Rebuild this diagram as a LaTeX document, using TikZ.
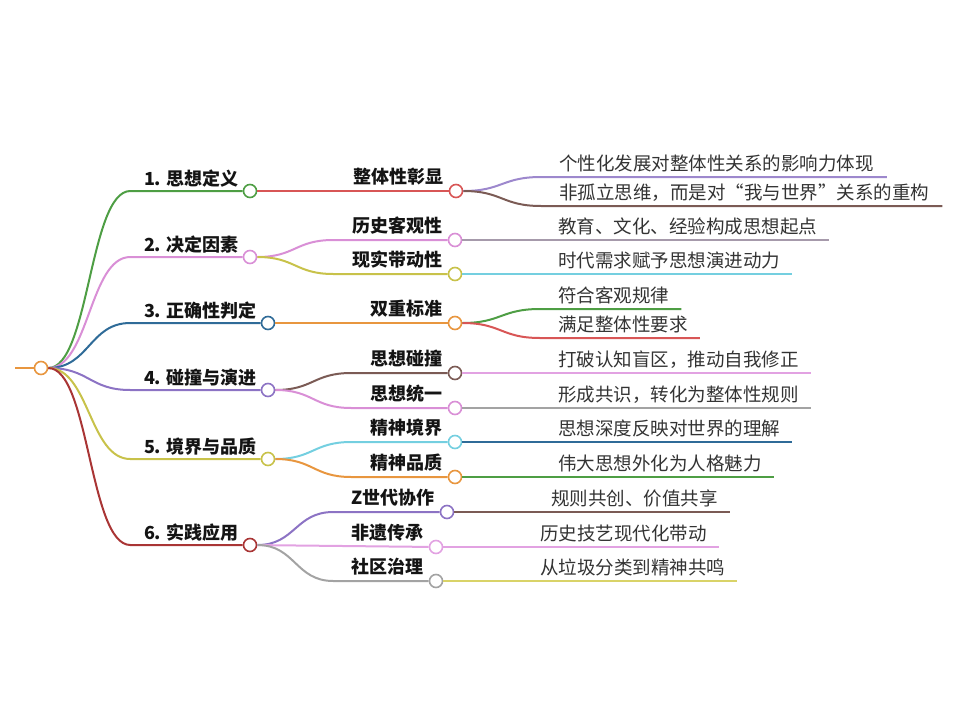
\documentclass[tikz,border=0pt]{standalone}
\usepackage{fontspec}
\usepackage{tikz}
\usetikzlibrary{calc}
\newfontfamily\cjk{Noto Sans CJK SC}
\definecolor{ORANGE}{HTML}{E8963F}
\definecolor{GREEN}{HTML}{4E9E44}
\definecolor{PINK}{HTML}{D98FD6}
\definecolor{BLUE}{HTML}{2F6B98}
\definecolor{PURPLE}{HTML}{8C73C4}
\definecolor{OLIVE}{HTML}{C8C24A}
\definecolor{DRED}{HTML}{A93535}
\definecolor{RED}{HTML}{D85656}
\definecolor{BROWN}{HTML}{7B5B55}
\definecolor{GRAY}{HTML}{A3A3A3}
\definecolor{CYAN}{HTML}{74CFE0}
\definecolor{LPINK}{HTML}{E2A2E2}
\definecolor{GPURP}{HTML}{A69AAB}
\definecolor{LYEL}{HTML}{D9D368}
\tikzset{
ARC/.style ={line join=round,line cap=butt,line width=2pt},
DOT/.style ={circle,draw,fill=white,line width=1.6pt,minimum size=13pt,inner sep=0pt},
TOP/.style ={font=\cjk\bfseries\fontsize{18}{20}\selectfont,text=black!92,inner sep=0pt,anchor=base east},
LEAF/.style ={font=\cjk\fontsize{18.5}{20}\selectfont,text=black!80,inner sep=0pt,anchor=base west},
}
\begin{document}
\begin{tikzpicture} %mind map
[x=1pt, y=-1pt]
	\useasboundingbox (0,0) rectangle (962,715);
	\node[DOT,draw=ORANGE] (root) at (41,368) {};
	\coordinate (in) at (15,368);
	\coordinate (k0) at ($(root.east)+(82,0)$);
	% first level
	\node[DOT,draw=GREEN] (a1) at (250,191) {};
	\node[DOT,draw=PINK] (a2) at (250,257) {};
	\node[DOT,draw=BLUE] (a3) at (268,323) {};
	\node[DOT,draw=PURPLE] (a4) at (268,390) {};
	\node[DOT,draw=OLIVE] (a5) at (268,459) {};
	\node[DOT,draw=DRED] (a6) at (250,545) {};
	\node[TOP] at ($(a1)+(-11,-6)$) {1. 思想定义};
	\node[TOP] at ($(a2)+(-11,-6)$) {2. 决定因素};
	\node[TOP] at ($(a3)+(-11,-6)$) {3. 正确性判定};
	\node[TOP] at ($(a4)+(-11,-6)$) {4. 碰撞与演进};
	\node[TOP] at ($(a5)+(-11,-6)$) {5. 境界与品质};
	\node[TOP] at ($(a6)+(-11,-6)$) {6. 实践应用};
	\path[ARC,draw=ORANGE] (in) -- (root);
	\path[ARC,draw=GREEN] (root.east) .. controls +(41,0) and +(-41,0) .. (k0 |- a1) -- (a1);
	\path[ARC,draw=PINK] (root.east) .. controls +(41,0) and +(-41,0) .. (k0 |- a2) -- (a2);
	\path[ARC,draw=BLUE] (root.east) .. controls +(41,0) and +(-41,0) .. (k0 |- a3) -- (a3);
	\path[ARC,draw=PURPLE] (root.east) .. controls +(41,0) and +(-41,0) .. (k0 |- a4) -- (a4);
	\path[ARC,draw=OLIVE] (root.east) .. controls +(41,0) and +(-41,0) .. (k0 |- a5) -- (a5);
	\path[ARC,draw=DRED] (root.east) .. controls +(41,0) and +(-41,0) .. (k0 |- a6) -- (a6);
	% second level
	\node[DOT,draw=RED] (b1) at (456,191) {};
	\node[DOT,draw=PINK] (b2) at (455,240) {};
	\node[DOT,draw=OLIVE] (b3) at (455,274) {};
	\node[DOT,draw=ORANGE] (b4) at (455,323) {};
	\node[DOT,draw=BROWN] (b5) at (455,373) {};
	\node[DOT,draw=PINK] (b6) at (455,408) {};
	\node[DOT,draw=CYAN] (b7) at (455,442) {};
	\node[DOT,draw=ORANGE] (b8) at (455,477) {};
	\node[DOT,draw=PURPLE] (b9) at (447,512) {};
	\node[DOT,draw=LPINK] (b10) at (436,547) {};
	\node[DOT,draw=GRAY] (b11) at (436,581) {};
	\node[TOP] at ($(b1)+(-12,-8)$) {整体性彰显};
	\node[TOP] at ($(b2)+(-12,-8)$) {历史客观性};
	\node[TOP] at ($(b3)+(-12,-8)$) {现实带动性};
	\node[TOP] at ($(b4)+(-12,-8)$) {双重标准};
	\node[TOP] at ($(b5)+(-12,-8)$) {思想碰撞};
	\node[TOP] at ($(b6)+(-12,-8)$) {思想统一};
	\node[TOP] at ($(b7)+(-12,-8)$) {精神境界};
	\node[TOP] at ($(b8)+(-12,-8)$) {精神品质};
	\node[TOP] at ($(b9)+(-12,-8)$) {Z世代协作};
	\node[TOP] at ($(b10)+(-12,-8)$) {非遗传承};
	\node[TOP] at ($(b11)+(-12,-8)$) {社区治理};
	\coordinate (k2) at ($(a2.east)+(76,0)$);
	\coordinate (k4) at ($(a4.east)+(76,0)$);
	\coordinate (k5) at ($(a5.east)+(76,0)$);
	\coordinate (k6) at ($(a6.east)+(76,0)$);
	\path[ARC,draw=RED] (a1) -- (b1);
	\path[ARC,draw=PINK] (a2.east) .. controls +(38,0) and +(-38,0) .. (k2 |- b2) -- (b2);
	\path[ARC,draw=OLIVE] (a2.east) .. controls +(38,0) and +(-38,0) .. (k2 |- b3) -- (b3);
	\path[ARC,draw=ORANGE] (a3) -- (b4);
	\path[ARC,draw=BROWN] (a4.east) .. controls +(38,0) and +(-38,0) .. (k4 |- b5) -- (b5);
	\path[ARC,draw=PINK] (a4.east) .. controls +(38,0) and +(-38,0) .. (k4 |- b6) -- (b6);
	\path[ARC,draw=CYAN] (a5.east) .. controls +(38,0) and +(-38,0) .. (k5 |- b7) -- (b7);
	\path[ARC,draw=ORANGE] (a5.east) .. controls +(38,0) and +(-38,0) .. (k5 |- b8) -- (b8);
	\path[ARC,draw=PURPLE] (a6.east) .. controls +(38,0) and +(-38,0) .. (k6 |- b9) -- (b9);
	\path[ARC,draw=LPINK] (a6) -- (b10);
	\path[ARC,draw=GRAY] (a6.east) .. controls +(38,0) and +(-38,0) .. (k6 |- b11) -- (b11);
	% third level
	\node[LEAF] (t1) at ($(b1)+(103,-21)$) {个性化发展对整体性关系的影响力体现};
	\node[LEAF] (t2) at ($(b1)+(103,8)$) {非孤立思维，而是对“我与世界”关系的重构};
	\node[LEAF] (t3) at ($(b2)+(103,-7)$) {教育、文化、经验构成思想起点};
	\node[LEAF] (t4) at ($(b3)+(103,-7)$) {时代需求赋予思想演进动力};
	\node[LEAF] (t5) at ($(b4)+(103,-21)$) {符合客观规律};
	\node[LEAF] (t6) at ($(b4)+(103,8)$) {满足整体性要求};
	\node[LEAF] (t7) at ($(b5)+(103,-7)$) {打破认知盲区，推动自我修正};
	\node[LEAF] (t8) at ($(b6)+(103,-7)$) {形成共识，转化为整体性规则};
	\node[LEAF] (t9) at ($(b7)+(103,-7)$) {思想深度反映对世界的理解};
	\node[LEAF] (t10) at ($(b8)+(103,-7)$) {伟大思想外化为人格魅力};
	\node[LEAF] (t11) at ($(b9)+(104,-7)$) {规则共创、价值共享};
	\node[LEAF] (t12) at ($(b10)+(104,-7)$) {历史技艺现代化带动};
	\node[LEAF] (t13) at ($(b11)+(104,-7)$) {从垃圾分类到精神共鸣};
	\coordinate (s1) at ($(t1.base west)+(-18,7)$);
	\coordinate (s2) at ($(t2.base west)+(-18,7)$);
	\coordinate (s5) at ($(t5.base west)+(-18,7)$);
	\coordinate (s6) at ($(t6.base west)+(-18,7)$);
	\coordinate (e1) at ($(t1.base east)+(13,7)$);
	\coordinate (e2) at ($(t2.base east)+(13,7)$);
	\coordinate (e3) at ($(t3.base east)+(12,7)$);
	\coordinate (e4) at ($(t4.base east)+(12,7)$);
	\coordinate (e5) at ($(t5.base east)+(12,7)$);
	\coordinate (e6) at ($(t6.base east)+(12,7)$);
	\coordinate (e7) at ($(t7.base east)+(12,7)$);
	\coordinate (e8) at ($(t8.base east)+(12,7)$);
	\coordinate (e9) at ($(t9.base east)+(12,7)$);
	\coordinate (e10) at ($(t10.base east)+(12,7)$);
	\coordinate (e11) at ($(t11.base east)+(12,7)$);
	\coordinate (e12) at ($(t12.base east)+(12,7)$);
	\coordinate (e13) at ($(t13.base east)+(12,7)$);
	\path[ARC,draw=PURPLE!85!white] (b1.east) .. controls +(39,0) and +(-39,0) .. (s1) -- (e1);
	\path[ARC,draw=BROWN] (b1.east) .. controls +(39,0) and +(-39,0) .. (s2) -- (e2);
	\path[ARC,draw=GPURP] (b2) -- (e3);
	\path[ARC,draw=CYAN] (b3) -- (e4);
	\path[ARC,draw=GREEN] (b4.east) .. controls +(39,0) and +(-39,0) .. (s5) -- (e5);
	\path[ARC,draw=RED] (b4.east) .. controls +(39,0) and +(-39,0) .. (s6) -- (e6);
	\path[ARC,draw=LPINK] (b5) -- (e7);
	\path[ARC,draw=GRAY] (b6) -- (e8);
	\path[ARC,draw=BLUE] (b7) -- (e9);
	\path[ARC,draw=GREEN] (b8) -- (e10);
	\path[ARC,draw=BROWN] (b9) -- (e11);
	\path[ARC,draw=LPINK] (b10) -- (e12);
	\path[ARC,draw=LYEL] (b11) -- (e13);
\end{tikzpicture}
\end{document}
